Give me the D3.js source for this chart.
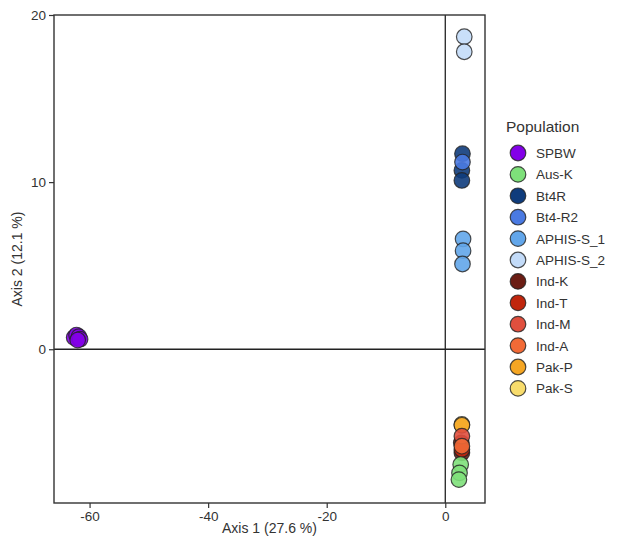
<!DOCTYPE html>
<html>
<head>
<meta charset="utf-8">
<script src="https://cdn.jsdelivr.net/npm/d3@7"></script>
<style>
  body { margin: 0; background: #fff; }
  svg { font-family: "Liberation Sans", Arial, sans-serif; }
</style>
</head>
<body>
<svg id="chart" width="617" height="542"></svg>
<script>
// population names + colours (legend order)
var populations = ["SPBW", "Aus-K", "Bt4R", "Bt4-R2", "APHIS-S_1", "APHIS-S_2",
                   "Ind-K", "Ind-T", "Ind-M", "Ind-A", "Pak-P", "Pak-S"];
var colors = ["#8300e8", "#7ee07a", "#0f3c7c", "#4a7ae2", "#62a6ea", "#c3dbf8",
              "#6b1d14", "#c0260d", "#e04f3e", "#f26a36", "#f5a623", "#f8dc6c"];

// PCoA coordinates per population, [axis1, axis2]
var spbw     = [[-62.6, 0.7], [-62.2, 0.85], [-61.8, 0.75], [-61.6, 0.6], [-62.0, 0.55]];
var ausK     = [[2.6, -6.9], [2.4, -7.4], [2.3, -7.8]];
var bt4r     = [[2.9, 11.7], [2.8, 10.7], [2.8, 10.1]];
var bt4r2    = [[2.9, 11.2]];
var aphisS1  = [[3.0, 6.6], [3.0, 5.9], [2.9, 5.1]];
var aphisS2  = [[3.2, 18.7], [3.2, 17.8]];
var indK     = [[2.8, -6.2], [2.7, -5.6]];
var indT     = [[2.8, -6.0]];
var indM     = [[2.8, -5.2]];
var indA     = [[2.8, -5.8]];
var pakP     = [[2.8, -4.55]];
var pakS     = [[2.8, -4.5]];
var seriesPts = [spbw, ausK, bt4r, bt4r2, aphisS1, aphisS2, indK, indT, indM, indA, pakP, pakS];
// order the groups get painted in (index into populations)
var drawOrder = [0, 2, 3, 4, 5, 6, 7, 11, 10, 8, 9, 1];

var xTicks = [-60, -40, -20, 0];
var yTicks = [0, 10, 20];

var svg = d3.select("#chart");
var mLeft = 54, mRight = 485, mTop = 15, mBottom = 503;

var x = d3.scaleLinear().domain([-66, 6.7]).range([mLeft, mRight]);
var y = d3.scaleLinear().domain([-9.2, 20]).range([mBottom, mTop]);
var fmt = function(d) { return String(d); };

// axes
var xAxis = svg.append("g")
  .attr("transform", "translate(0," + mBottom + ")")
  .call(d3.axisBottom(x).tickValues(xTicks).tickFormat(fmt).tickSize(5).tickPadding(3));
var yAxis = svg.append("g")
  .attr("transform", "translate(" + mLeft + ",0)")
  .call(d3.axisLeft(y).tickValues(yTicks).tickFormat(fmt).tickSize(5).tickPadding(3));

[xAxis, yAxis].forEach(function(a) {
  a.select(".domain").remove();
  a.selectAll("line").attr("stroke", "#333").attr("stroke-width", 1.2);
  a.selectAll("text").attr("fill", "#333").style("font-size", "13.5px");
});

// zero lines
svg.append("line")
  .attr("x1", x(0)).attr("x2", x(0)).attr("y1", mTop).attr("y2", mBottom)
  .attr("stroke", "#222").attr("stroke-width", 1.3);
svg.append("line")
  .attr("x1", mLeft).attr("x2", mRight).attr("y1", y(0)).attr("y2", y(0))
  .attr("stroke", "#222").attr("stroke-width", 1.3);

// points
drawOrder.forEach(function(i) {
  svg.append("g").selectAll("circle")
    .data(seriesPts[i])
    .enter().append("circle")
    .attr("cx", function(d) { return x(d[0]); })
    .attr("cy", function(d) { return y(d[1]); })
    .attr("r", 7.8)
    .attr("fill", colors[i])
    .attr("fill-opacity", 0.9)
    .attr("stroke", "#222")
    .attr("stroke-opacity", 0.8)
    .attr("stroke-width", 1.2);
});

// frame
svg.append("rect")
  .attr("x", mLeft).attr("y", mTop)
  .attr("width", mRight - mLeft).attr("height", mBottom - mTop)
  .attr("fill", "none").attr("stroke", "#333").attr("stroke-width", 1.4);

// axis titles
svg.append("text")
  .attr("x", (mLeft + mRight) / 2).attr("y", 533)
  .attr("text-anchor", "middle").attr("fill", "#333")
  .style("font-size", "14px")
  .text("Axis 1 (27.6 %)");
svg.append("text")
  .attr("transform", "translate(22," + (mTop + mBottom) / 2 + ") rotate(-90)")
  .attr("text-anchor", "middle").attr("fill", "#333")
  .style("font-size", "14px")
  .text("Axis 2 (12.1 %)");

// legend
var legend = svg.append("g");
legend.append("text")
  .attr("x", 506).attr("y", 132)
  .attr("fill", "#333").style("font-size", "15.5px")
  .text("Population");

var item = legend.selectAll(".item")
  .data(populations)
  .enter().append("g")
  .attr("transform", function(d, i) { return "translate(518," + (153 + i * 21.4) + ")"; });
item.append("circle")
  .attr("r", 7.8)
  .attr("fill", function(d, i) { return colors[i]; })
  .attr("stroke", "#222").attr("stroke-opacity", 0.8).attr("stroke-width", 1.2);
item.append("text")
  .attr("x", 18).attr("y", 5)
  .attr("fill", "#333").style("font-size", "13.5px")
  .text(function(d) { return d; });
</script>
</body>
</html>
